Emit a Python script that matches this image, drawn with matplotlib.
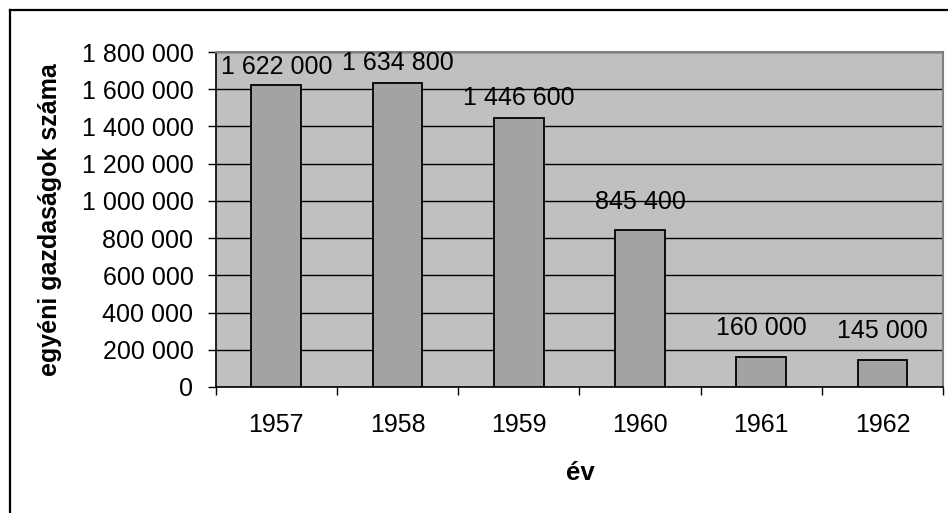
import matplotlib
matplotlib.use("Agg")
import matplotlib.pyplot as plt
from matplotlib.ticker import FuncFormatter, FixedLocator
from matplotlib.lines import Line2D

years = ["1957", "1958", "1959", "1960", "1961", "1962"]
values = [1622000, 1634800, 1446600, 845400, 160000, 145000]
yticks = [0, 200000, 400000, 600000, 800000, 1000000, 1200000, 1400000, 1600000, 1800000]

# label offset above bar top (pixels, label centre)
label_off_px = [18, 20, 20, 28, 29, 29]

plt.rcParams['font.family'] = ['Liberation Sans', 'DejaVu Sans']

W, H = 948, 513
fig = plt.figure(figsize=(W / 100, H / 100), dpi=100)
ax = fig.add_axes([215.7 / W, 1 - 387 / H, (943 - 215.7) / W, (387 - 52) / H])
ax.set_facecolor('#C0C0C0')

x = list(range(len(years)))
ax.bar(x, values, width=0.41, color='#A3A3A3', edgecolor='black', linewidth=1.3, zorder=3)

def fmt(v, pos=None):
    return f"{v:,.0f}".replace(",", " ")

for xi, v, off in zip(x, values, label_off_px):
    ax.annotate(fmt(v), (xi, v), xytext=(0, off * 0.72), textcoords='offset points',
                ha='center', va='center', fontsize=18, color='black', zorder=4)

ax.set_xlim(-0.5, len(years) - 0.5)
ax.set_ylim(0, 1800000)
ax.yaxis.set_major_locator(FixedLocator(yticks))
ax.yaxis.set_major_formatter(FuncFormatter(fmt))
ax.grid(axis='y', color='black', linewidth=1.0, zorder=1)
ax.set_axisbelow(True)

ax.xaxis.set_major_locator(FixedLocator([i - 0.5 for i in range(len(years) + 1)]))
ax.xaxis.set_major_formatter(FuncFormatter(lambda v, p: ""))
ax.xaxis.set_minor_locator(FixedLocator(x))
ax.set_xticklabels(years, minor=True)
ax.tick_params(axis='x', which='major', direction='out', length=6, width=1, color='black')
ax.tick_params(axis='x', which='minor', length=0, pad=19, labelsize=18)
ax.tick_params(axis='y', direction='out', length=6, width=1, pad=10, labelsize=18)

for s in ['top', 'right']:
    ax.spines[s].set_color('#808080')
    ax.spines[s].set_linewidth(1.5)
for s in ['left', 'bottom']:
    ax.spines[s].set_color('black')
    ax.spines[s].set_linewidth(1.2)

fig.text(50 / W, 1 - 219.5 / H, "egyéni gazdaságok száma", rotation=90, ha='center', va='center',
         fontsize=18, fontweight='bold')
fig.text(580 / W, 1 - 473 / H, "év", ha='center', va='center', fontsize=18.5, fontweight='bold')

# outer frame (left and top visible)
fig.add_artist(Line2D([9.5 / W, 9.5 / W], [0, 1 - 9.5 / H], transform=fig.transFigure, color='black', linewidth=1.6))
fig.add_artist(Line2D([9.5 / W, 1], [1 - 9.5 / H, 1 - 9.5 / H], transform=fig.transFigure, color='black', linewidth=1.6))

fig.savefig("out.png", dpi=100)
